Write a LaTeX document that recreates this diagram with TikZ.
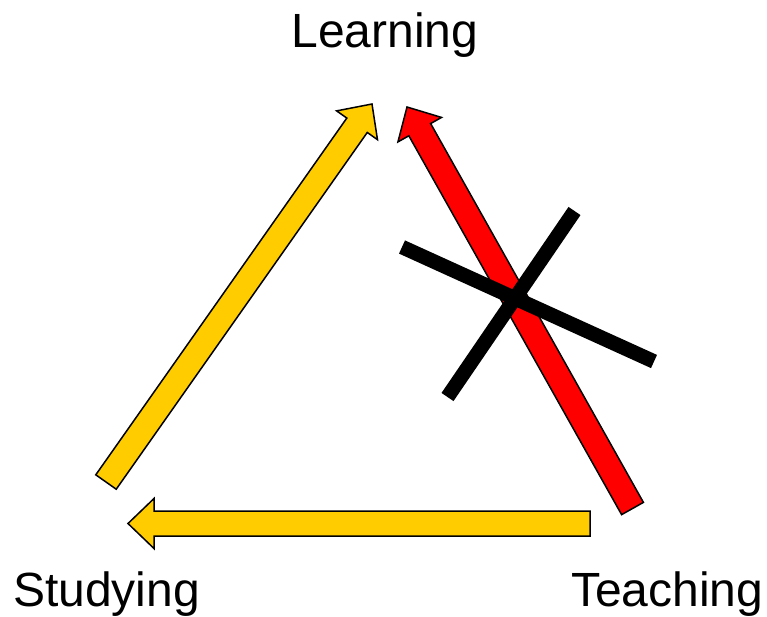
\documentclass[tikz,border=0pt]{standalone}
\usepackage{fontspec}
\setmainfont{Liberation Sans}
\usetikzlibrary{calc}
\definecolor{goldy}{HTML}{FFCC00}
\definecolor{redy}{HTML}{FF0000}
\tikzset{
  blockarrow/.style={draw=black, line width=1.5pt, line join=miter},
  crossbar/.style={draw=black, line width=14.5pt, line cap=butt},
  lbl/.style={font=\fontsize{48}{52}\selectfont, inner sep=0pt}
}
\newcommand{\myblockarrow}[3]{%
  \coordinate (H) at ($(#2)!26pt!(#1)$);
  \fill[#3] ($(#1)!12.5pt!90:(#2)$) -- ($(H)!12.5pt!-90:(#1)$) -- ($(H)!25pt!-90:(#1)$) -- (#2)
     -- ($(H)!25pt!90:(#1)$) -- ($(H)!12.5pt!90:(#1)$) -- ($(#1)!12.5pt!-90:(#2)$) -- cycle;
  \draw[blockarrow] ($(#1)!12.5pt!90:(#2)$) -- ($(H)!12.5pt!-90:(#1)$) -- ($(H)!25pt!-90:(#1)$) -- (#2)
     -- ($(H)!25pt!90:(#1)$) -- ($(H)!12.5pt!90:(#1)$) -- ($(#1)!12.5pt!-90:(#2)$) -- cycle;
}
\begin{document}
\begin{tikzpicture}[x=1pt,y=-1pt]
\useasboundingbox (0,0) rectangle (767,616);
% labels
\node[lbl, anchor=base] (learn) at (385,47) {Learning};
\node[lbl, anchor=base west] (study) at (13,606) {Studying};
\node[lbl, anchor=base west] (teach) at (571,606) {Teaching};
% arrow endpoints
\coordinate (ya) at (106,482);
\coordinate (yb) at (372,104);
\coordinate (ra) at (632.5,508.5);
\coordinate (rb) at (407,107);
\coordinate (ba) at (590,523.5);
\coordinate (bb) at (128,523.5);
\myblockarrow{ya}{yb}{goldy}
\myblockarrow{ba}{bb}{goldy}
\myblockarrow{ra}{rb}{redy}
% cross
\coordinate (c1a) at (402,247);
\coordinate (c1b) at (654,361.5);
\coordinate (c2a) at (574.5,211);
\coordinate (c2b) at (447.5,397);
\draw[crossbar] (c1a) -- (c1b);
\draw[crossbar] (c2a) -- (c2b);
\end{tikzpicture}
\end{document}
